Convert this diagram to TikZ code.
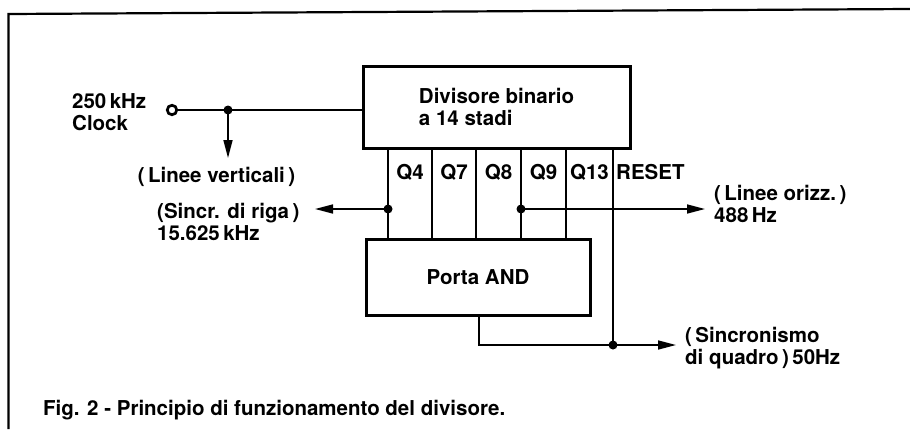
\documentclass[tikz,border=0pt]{standalone}
\usepackage{fontspec}
\setmainfont{TeX Gyre Heros}
\usetikzlibrary{arrows.meta,calc}
\begin{document}
\begin{tikzpicture}[x=1pt,y=-1pt,
  txt/.style={font=\bfseries\fontsize{20.5}{22.5}\selectfont, inner sep=0pt, align=left},
  box/.style={draw, line width=3pt, inner sep=0pt},
  wire/.style={line width=1.6pt},
  arr/.style={wire, -{Triangle[length=18pt,width=9pt]}},
  dot/.style={circle, fill, inner sep=0pt, minimum size=9pt},
]
\useasboundingbox (0,0) rectangle (910,429);
% frame
\draw[line width=2.2pt] (8.5,429) -- (8.5,14) -- (910,9);
% boxes
\node[box, minimum width=267pt, minimum height=82pt, txt] (div) at (496.5,107) {Divisore binario\\a 14 stadi};
\node[box, minimum width=224pt, minimum height=76pt, txt] (and) at (478,277) {Porta AND};
% clock input
\node[circle, draw, line width=2.7pt, minimum size=9.5pt, inner sep=0pt] (clk) at (172,110) {};
\node[txt, anchor=west] (clktxt) at (72,112) {250\,kHz\\Clock};
\node[dot] (j1) at (228,110) {};
\draw[wire] (clk) -- (div.west |- clk);
\coordinate (lvtip) at (228,158);
\draw[arr] (j1.center) -- (lvtip);
\node[txt] (lv) at (216.5,177) {(\,Linee verticali\,)};
% output lines
\foreach \n/\x in {4/388,7/432,8/476,9/521,13/566,r/613} \coordinate (x\n) at (\x,0);
\foreach \n in {4,7,8,9,13} \draw[wire] (div.south -| x\n) -- (and.north -| x\n);
\coordinate (rbot) at (613,345);
\draw[wire] (div.south -| xr) -- (rbot);
% labels
\node[txt] (lq4) at (410,172) {Q4};
\node[txt] (lq7) at (454,172) {Q7};
\node[txt] (lq8) at (498.5,172) {Q8};
\node[txt] (lq9) at (543.5,172) {Q9};
\node[txt] (lq13) at (589.5,172) {Q13};
\node[txt, anchor=west] (lreset) at (616,172) {RESET};
% Q4 branch
\node[dot] (j4) at (388,209) {};
\coordinate (sctip) at (315,209);
\draw[arr] (j4.center) -- (sctip);
\node[txt, anchor=west] (sc) at (157,222) {(Sincr. di riga\,)\\15.625\,kHz};
% Q9 branch
\node[dot] (j9) at (521,209) {};
\coordinate (lotip) at (705,209);
\draw[arr] (j9.center) -- (lotip);
\node[txt, anchor=west] (lo) at (714,204) {(\,Linee orizz.\,)\\488\,Hz};
% AND output
\coordinate (obot) at (479,345);
\draw[wire] (and.south -| obot) -- (obot) -- (rbot);
\node[dot] (j5) at (rbot) {};
\coordinate (sqtip) at (676,345);
\draw[arr] (j5.center) -- (sqtip);
\node[txt, anchor=west] (sq) at (685,348) {(\,Sincronismo\\di quadro\,)\,50Hz};
% caption
\node[txt, anchor=west] (cap) at (43,410) {Fig. 2 - Principio di funzionamento del divisore.};
\end{tikzpicture}
\end{document}
